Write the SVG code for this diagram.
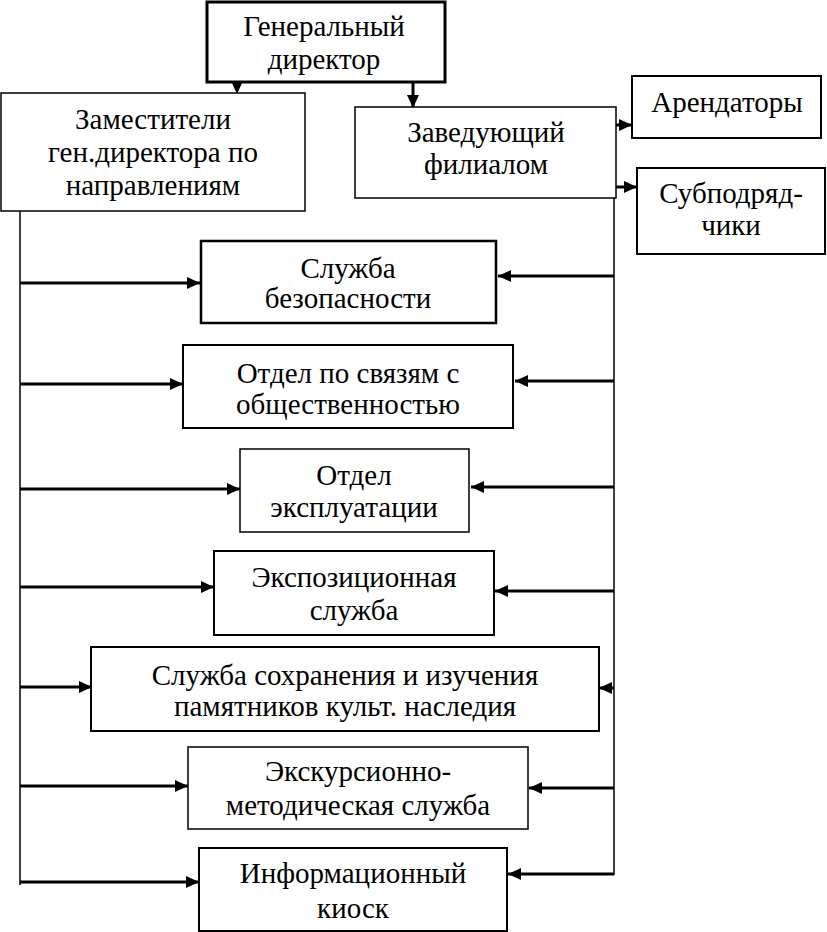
<svg xmlns="http://www.w3.org/2000/svg" width="827" height="932" viewBox="0 0 827 932">
<style>
.box{fill:#fff;stroke:#000;stroke-width:2}
.ln{stroke:#000;stroke-width:1.5;fill:none}
.ar{stroke:#000;stroke-width:3;fill:none;marker-end:url(#ah)}
</style>
<defs>
<marker id="ah" markerUnits="userSpaceOnUse" markerWidth="13" markerHeight="12" refX="13" refY="6" orient="auto">
<path d="M0,0 L13,6 L0,12 Z" fill="#000"/>
</marker>
</defs>
<rect width="827" height="932" fill="#fff"/>
<g id="connectors">
<line class="ln" x1="20" y1="211" x2="20" y2="885"/>
<line class="ln" x1="614" y1="198" x2="614" y2="875"/>
<line class="ar" x1="237" y1="83" x2="237" y2="94" style="stroke-width:1.5"/>
<line class="ar" x1="413" y1="83" x2="413" y2="108"/>
<line class="ar" x1="616" y1="125" x2="632" y2="125"/>
<line class="ar" x1="616" y1="187" x2="637" y2="187"/>
<line class="ar" x1="20" y1="283" x2="200" y2="283"/>
<line class="ar" x1="614" y1="276" x2="498" y2="276"/>
<line class="ar" x1="20" y1="384" x2="183" y2="384"/>
<line class="ar" x1="614" y1="381" x2="515" y2="381"/>
<line class="ar" x1="20" y1="489" x2="240" y2="489"/>
<line class="ar" x1="614" y1="487" x2="471" y2="487"/>
<line class="ar" x1="20" y1="587" x2="214" y2="587"/>
<line class="ar" x1="614" y1="591" x2="495" y2="591"/>
<line class="ar" x1="20" y1="687" x2="92" y2="687"/>
<line class="ar" x1="614" y1="688" x2="599" y2="688"/>
<line class="ar" x1="20" y1="786" x2="188" y2="786"/>
<line class="ar" x1="614" y1="788" x2="529" y2="788"/>
<line class="ar" x1="20" y1="882" x2="199" y2="882"/>
<line class="ar" x1="614" y1="874" x2="508" y2="874"/>
</g>
<g font-family="Liberation Serif, Times New Roman, serif" font-size="29" text-anchor="middle" fill="#000">
<g id="gd">
<rect class="box" x="207" y="2" width="238" height="80" style="stroke-width:3"/>
<text x="324" y="36">Генеральный</text>
<text x="324" y="69">директор</text>
</g>
<g id="zam">
<rect class="box" x="1" y="93" width="304" height="118" style="stroke-width:1.5"/>
<text x="153" y="129">Заместители</text>
<text x="153" y="162">ген.директора по</text>
<text x="153" y="195">направлениям</text>
</g>
<g id="zav">
<rect class="box" x="355" y="107" width="261" height="91" style="stroke-width:1.5"/>
<text x="486" y="142">Заведующий</text>
<text x="486" y="174">филиалом</text>
</g>
<g id="arend">
<rect class="box" x="632" y="76" width="189" height="62"/>
<text x="727" y="112">Арендаторы</text>
</g>
<g id="subpod">
<rect class="box" x="637" y="168" width="188" height="86"/>
<text x="731" y="203">Субподряд-</text>
<text x="731" y="235">чики</text>
</g>
<g id="sb">
<rect class="box" x="201" y="241" width="295" height="82" style="stroke-width:2.5"/>
<text x="348" y="278">Служба</text>
<text x="348" y="308">безопасности</text>
</g>
<g id="pr">
<rect class="box" x="183" y="345" width="330" height="83"/>
<text x="348" y="383">Отдел по связям с</text>
<text x="348" y="414">общественностью</text>
</g>
<g id="expl">
<rect class="box" x="240" y="449" width="229" height="83" style="stroke-width:1.5"/>
<text x="354" y="485">Отдел</text>
<text x="354" y="517">эксплуатации</text>
</g>
<g id="expo">
<rect class="box" x="214" y="551" width="280" height="84"/>
<text x="354" y="587">Экспозиционная</text>
<text x="354" y="620">служба</text>
</g>
<g id="sohr">
<rect class="box" x="91" y="647" width="508" height="84"/>
<text x="345" y="685">Служба сохранения и изучения</text>
<text x="345" y="716">памятников культ. наследия</text>
</g>
<g id="ekskurs">
<rect class="box" x="188" y="747" width="340" height="82" style="stroke-width:1.5"/>
<text x="358" y="781">Экскурсионно-</text>
<text x="358" y="815">методическая служба</text>
</g>
<g id="kiosk">
<rect class="box" x="199" y="848" width="308" height="83"/>
<text x="353" y="883">Информационный</text>
<text x="353" y="918">киоск</text>
</g>
</g>
</svg>
